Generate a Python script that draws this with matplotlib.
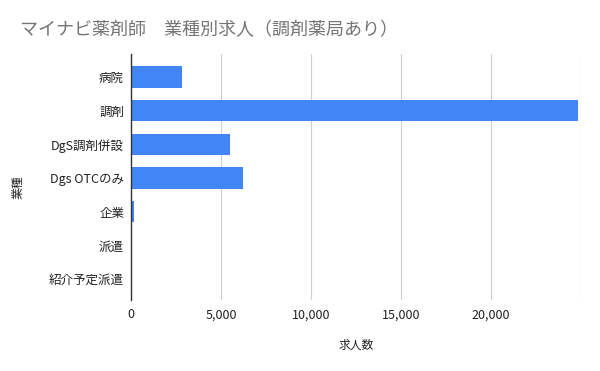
import matplotlib
matplotlib.use('Agg')
import matplotlib.pyplot as plt
from matplotlib.ticker import FuncFormatter

plt.rcParams['font.family'] = ['Noto Sans CJK JP', 'DejaVu Sans']

categories = ['病院', '調剤', 'DgS調剤併設', 'Dgs OTCのみ', '企業', '派遣', '紹介予定派遣']
job_counts = [2830, 24850, 5480, 6220, 150, 0, 0]
x_ticks = [0, 5000, 10000, 15000, 20000, 25000]

fig = plt.figure(figsize=(6, 3.71), dpi=100)
ax = fig.add_axes([131 / 600, 1 - 300 / 371, 450 / 600, 246 / 371])

ypos = list(range(len(categories)))
ax.barh(ypos, job_counts, height=0.64, color='#4285F4', zorder=3)

ax.set_xlim(0, 25000)
ax.set_ylim(6.62, -0.68)
ax.set_xticks(x_ticks)
# last gridline has no label, like the original
ax.xaxis.set_major_formatter(FuncFormatter(lambda v, p: '' if v >= 25000 else f'{int(v):,}'))
ax.set_yticks(ypos)
ax.set_yticklabels(categories)
ax.tick_params(axis='both', length=0, labelsize=9, colors='#222222')
ax.tick_params(axis='x', pad=6)
ax.tick_params(axis='y', pad=5)

ax.grid(axis='x', color='#d0d0d0', linewidth=0.8, zorder=0)
for side in ['top', 'right', 'bottom']:
    ax.spines[side].set_visible(False)
ax.spines['left'].set_color('#333333')
ax.spines['left'].set_linewidth(1.0)
ax.spines['left'].set_zorder(4)

ax.set_xlabel('求人数', fontsize=8.5, color='#222222')
ax.xaxis.set_label_coords(0.5, -39 / 246)
ax.set_ylabel('業種', fontsize=8.5, color='#222222')
ax.yaxis.set_label_coords(-106 / 450, 0.46)

fig.text(20 / 600, 1 - 30 / 371, 'マイナビ薬剤師　業種別求人（調剤薬局あり）',
         fontsize=13, color='#757575', va='center', ha='left')

fig.savefig('out.png', dpi=100)
